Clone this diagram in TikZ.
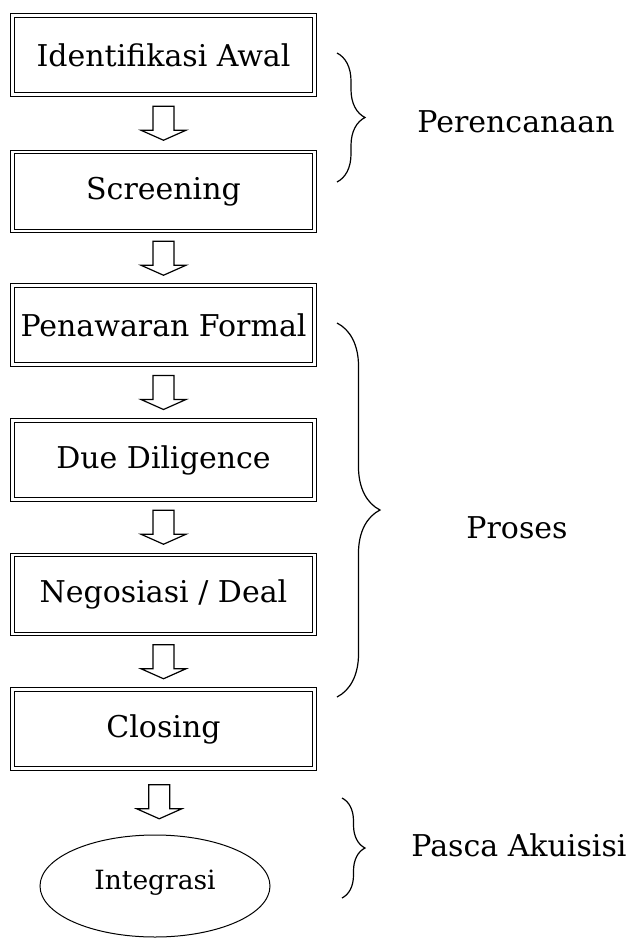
\documentclass[tikz,border=0pt]{standalone}
\usepackage{fontspec}
\setmainfont{DejaVu Serif}
\usetikzlibrary{calc,shapes.geometric,decorations.pathreplacing}
\newcommand{\hollowarrow}[2]{%
  \coordinate (mid) at ($(#1.south)!0.5!(#2.north)$);
  \draw[hollowarr] ($(mid)+(-10.5,17)$) -- ($(mid)+(-10.5,-7)$) -- ($(mid)+(-22.5,-7)$)
    -- ($(mid)+(0,-17)$) -- ($(mid)+(22.5,-7)$) -- ($(mid)+(10.5,-7)$)
    -- ($(mid)+(10.5,17)$) -- cycle;}
\begin{document}
\begin{tikzpicture}[x=1pt,y=1pt,
  stage/.style={draw, double, double distance=2.4pt, line width=1.2pt,
    minimum width=302pt, minimum height=79pt, inner sep=1pt,
    font=\fontsize{30}{36}\selectfont},
  hollowarr/.style={draw, line width=1.2pt, line join=miter},
  phase/.style={font=\fontsize{30}{36}\selectfont},
  phasebrace/.style={decorate, line width=1.2pt},
]
\useasboundingbox (0,0) rectangle (635,-940);
% tahapan
\node[stage] (s1) at (163.5,-55) {Identifikasi Awal};
\node[stage] (s2) at (163.5,-191.5) {Screening};
\node[stage] (s3) at (163.5,-325) {Penawaran Formal};
\node[stage] (s4) at (163.5,-460) {Due Diligence};
\node[stage] (s5) at (163.5,-594.5) {Negosiasi / Deal};
\node[stage] (s6) at (163.5,-729) {Closing};
\node[ellipse, draw, line width=1pt, minimum width=230pt, minimum height=102pt,
  text height=18pt, text depth=12pt, font=\fontsize{26.5}{32}\selectfont] (s7) at (155,-886) {Integrasi};
\hollowarrow{s1}{s2}
\hollowarrow{s2}{s3}
\hollowarrow{s3}{s4}
\hollowarrow{s4}{s5}
\hollowarrow{s5}{s6}
\hollowarrow{s6}{s7}
% fase
\node[phase] (plan) at (516,-122) {Perencanaan};
\node[phase] (proc) at (517,-528) {Proses};
\node[phase] (post) at (519,-845) {Pasca Akuisisi};
\coordinate (b1a) at (337,-53);
\coordinate (b1b) at (337,-182);
\coordinate (b2a) at (337,-323);
\coordinate (b2b) at (337,-697);
\coordinate (b3a) at (342,-798);
\coordinate (b3b) at (342,-898);
\draw[phasebrace, decoration={brace, amplitude=28pt}] (b1a) -- (b1b);
\draw[phasebrace, decoration={brace, amplitude=43pt}] (b2a) -- (b2b);
\draw[phasebrace, decoration={brace, amplitude=23pt}] (b3a) -- (b3b);
\end{tikzpicture}
\end{document}
